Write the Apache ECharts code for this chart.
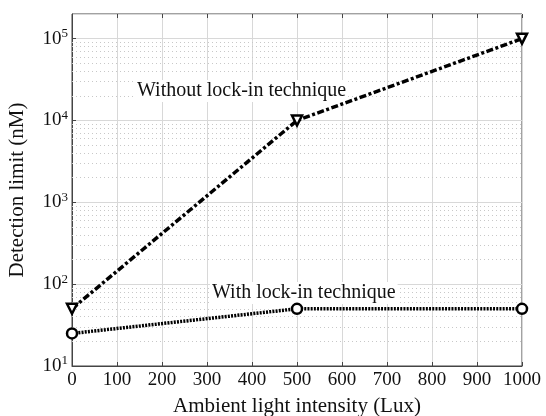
<!DOCTYPE html>
<html>
<head>
<meta charset="utf-8">
<script src="https://cdn.jsdelivr.net/npm/echarts@6/dist/echarts.min.js"></script>
<style>
  html, body { margin: 0; padding: 0; background: #fff; }
  #main { width: 546px; height: 416px; }
</style>
</head>
<body>
<div id="main"></div>
<script>
// data
var xValues = [0, 500, 1000];
var withoutLockIn = [50, 10000, 100000];
var withLockIn = [25, 50, 50];
var labelWithout = 'Without lock-in technique';
var labelWith = 'With lock-in technique';
var xTitle = 'Ambient light intensity (Lux)';
var yTitle = 'Detection limit (nM)';
// dotted minor grid lines, 2..9 x 10^n
var minorLines = [];
for (var e = 1; e <= 5; e++) {
    for (var m = 2; m <= 9; m++) {
        var v = m * Math.pow(10, e);
        if (v < 200000) minorLines.push({ yAxis: v });
    }
}

var font = 'Liberation Serif';
var dom = document.getElementById('main');
var myChart = echarts.init(dom);

function pairs(ys) {
    return xValues.map(function (x, i) { return [x, ys[i]]; });
}

var option = {
    animation: false,
    grid: {
        left: 72, right: 24, top: 14, bottom: 50,
        containLabel: false, outerBoundsMode: 'none',
        show: true, borderColor: '#444', borderWidth: 1
    },
    xAxis: [{
        type: 'value', min: 0, max: 1000, interval: 100,
        name: xTitle, nameLocation: 'middle', nameGap: 30,
        nameTextStyle: { fontFamily: font, fontSize: 21, color: '#111' },
        axisLine: { lineStyle: { color: '#444' } },
        axisTick: { inside: true, length: 4, lineStyle: { color: '#444' } },
        axisLabel: { fontFamily: font, fontSize: 19, color: '#111', margin: 5, formatter: function (v) { return String(v); } },
        splitLine: { lineStyle: { color: '#d8d8d8', width: 1 } }
    }, {
        type: 'value', position: 'top', min: 0, max: 1000, interval: 100,
        axisLine: { show: false },
        axisTick: { inside: true, length: 4, lineStyle: { color: '#444' } },
        axisLabel: { show: false }, splitLine: { show: false }
    }],
    yAxis: [{
        type: 'log', logBase: 10, min: 10, max: 200000,
        name: yTitle, nameLocation: 'middle', nameGap: 44,
        nameTextStyle: { fontFamily: font, fontSize: 21, color: '#111' },
        axisLine: { lineStyle: { color: '#444' } },
        axisTick: { inside: true, length: 4, lineStyle: { color: '#444' } },
        axisLabel: {
            showMaxLabel: false,
            margin: 4,
            formatter: function (val) {
                var p = Math.round(Math.log10(val));
                if (Math.abs(Math.pow(10, p) - val) > 1e-6 * val) return '';
                return '{b|10}{s|' + p + '}';
            },
            rich: {
                b: { fontFamily: font, fontSize: 19, color: '#111' },
                s: { fontFamily: font, fontSize: 13, color: '#111', verticalAlign: 'top', padding: [0, 0, 10, 0] }
            }
        },
        splitLine: { lineStyle: { color: '#d8d8d8', width: 1 } }
    }],
    series: [{
        name: labelWithout,
        type: 'line',
        data: pairs(withoutLockIn),
        symbol: 'triangle', symbolRotate: 180, symbolSize: 10,
        itemStyle: { color: '#fff', borderColor: '#000', borderWidth: 2.5 },
        lineStyle: { color: '#000', width: 3.5, type: [7, 2.5, 3, 2.5] },
        z: 5,
        markLine: {
            silent: true, symbol: 'none', label: { show: false },
            lineStyle: { color: '#c8c8c8', type: [1, 3], width: 1 },
            data: minorLines, z: 1
        }
    }, {
        name: labelWith,
        type: 'line',
        data: pairs(withLockIn),
        symbol: 'circle', symbolSize: 10,
        itemStyle: { color: '#fff', borderColor: '#000', borderWidth: 2.5 },
        lineStyle: { color: '#000', width: 3.5, type: [2, 1.2] },
        z: 5
    }],
    graphic: [{
        type: 'text', left: 135, top: 80, z: 3,
        style: { text: labelWithout, font: '20px "Liberation Serif"', fill: '#111', backgroundColor: '#fff', padding: [1, 2] }
    }, {
        type: 'text', left: 210, top: 282, z: 3,
        style: { text: labelWith, font: '20px "Liberation Serif"', fill: '#111', backgroundColor: '#fff', padding: [1, 2] }
    }]
};
myChart.setOption(option);
</script>
</body>
</html>
